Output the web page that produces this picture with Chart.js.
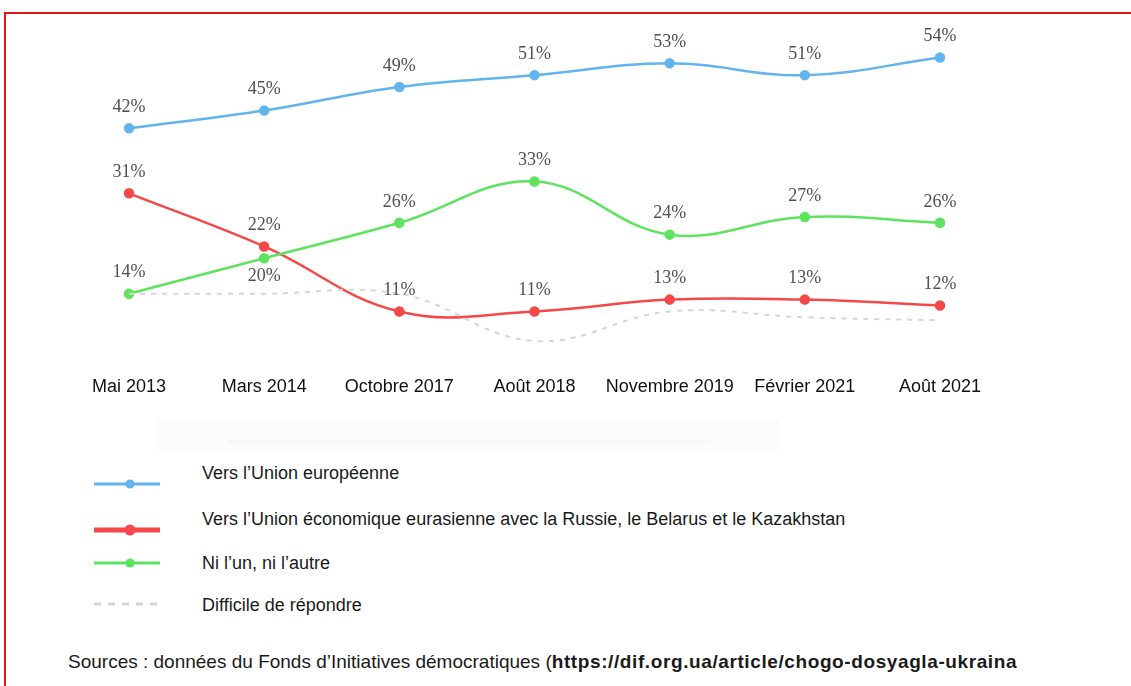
<!DOCTYPE html>
<html lang="fr">
<head>
<meta charset="utf-8">
<script src="https://cdn.jsdelivr.net/npm/chart.js@4.4.1/dist/chart.umd.min.js"></script>
<style>
  html, body { margin: 0; padding: 0; background: #fff; }
  body { width: 1131px; height: 686px; position: relative; overflow: hidden; font-family: "Liberation Sans", Arial, sans-serif; }
  #cadre { position: absolute; left: 4px; top: 12px; width: 1200px; height: 800px; border: 2px solid #e3141d; box-sizing: border-box; }
  #zone { position: absolute; left: 0; top: 0; width: 1131px; height: 410px; }
  #bande { position: absolute; left: 157px; top: 419px; width: 623px; height: 31px; background: #fbfbfc; }
  #bande div { position: absolute; left: 70px; right: 70px; top: 21px; height: 3px; background: #f3f6fa; }
  .legende { position: absolute; left: 0; top: 0; }
  .sym { position: absolute; left: 93px; }
  .txt { position: absolute; left: 202px; font-size: 18px; color: #1a1a1a; white-space: nowrap; line-height: 22px; }
  #source { position: absolute; left: 68px; top: 650px; font-size: 19px; line-height: 24px; color: #1a1a1a; white-space: nowrap; }
  #source b { letter-spacing: 0.6px; }
</style>
</head>
<body>
<div id="cadre"></div>
<div id="zone"><canvas id="graphique"></canvas></div>
<div id="bande"><div></div></div>
<div id="legende" class="legende"></div>
<div id="source">Sources : données du Fonds d’Initiatives démocratiques (<b>https://dif.org.ua/article/chogo-dosyagla-ukraina</b></div>
<script>
// Données
const periodes = ['Mai 2013', 'Mars 2014', 'Octobre 2017', 'Août 2018', 'Novembre 2019', 'Février 2021', 'Août 2021'];
const versUE = [42, 45, 49, 51, 53, 51, 54];
const versUEE = [31, 22, 11, 11, 13, 13, 12];
const niLunNiLautre = [14, 20, 26, 33, 24, 27, 26];
const difficile = [14, 14, 14, 6, 11, 10, 9.5];

const noms = [
    'Vers l’Union européenne',
    'Vers l’Union économique eurasienne avec la Russie, le Belarus et le Kazakhstan',
    'Ni l’un, ni l’autre',
    'Difficile de répondre'
];

// Étiquettes en pourcentage au-dessus des points
const etiquettes = {
    id: 'etiquettes',
    afterDatasetsDraw(chart) {
        const ctx = chart.ctx;
        ctx.save();
        ctx.font = '18px "Liberation Serif", "Times New Roman", serif';
        ctx.fillStyle = '#505050';
        ctx.textAlign = 'center';
        ctx.textBaseline = 'middle';
        chart.data.datasets.forEach((ds, i) => {
            if (!ds.etiquettes) return;
            chart.getDatasetMeta(i).data.forEach((pt, j) => {
                const dessous = ds.dessous && ds.dessous.includes(j);
                ctx.fillText(ds.data[j] + '%', pt.x, dessous ? pt.y + 18 : pt.y - 21);
            });
        });
        ctx.restore();
    }
};

const series = [
    { label: noms[0], data: versUE, borderColor: '#62b4ee', backgroundColor: '#62b4ee', borderWidth: 2.5, pointRadius: 4, etiquettes: true },
    { label: noms[1], data: versUEE, borderColor: '#f54848', backgroundColor: '#f54848', borderWidth: 2.5, pointRadius: 4, etiquettes: true },
    { label: noms[2], data: niLunNiLautre, borderColor: '#5ee35e', backgroundColor: '#5ee35e', borderWidth: 2.5, pointRadius: 4, etiquettes: true, dessous: [1] },
    { label: noms[3], data: difficile, borderColor: '#d6d6d6', backgroundColor: '#d6d6d6', borderWidth: 2, pointRadius: 0, borderDash: [5, 6] }
];

new Chart(document.getElementById('graphique'), {
    type: 'line',
    data: {
        labels: periodes,
        datasets: series.slice().reverse()
    },
    options: {
        responsive: true,
        maintainAspectRatio: false,
        animation: false,
        layout: { padding: { left: 129, right: 191, top: 22, bottom: 12 } },
        elements: { line: { tension: 0.4 }, point: { borderWidth: 0 } },
        plugins: { legend: { display: false }, tooltip: { enabled: false } },
        scales: {
            x: {
                offset: false,
                grid: { display: false, drawTicks: false },
                border: { display: false },
                ticks: { color: '#111', padding: 0, font: { family: '"Liberation Sans", Arial, sans-serif', size: 18 }, maxRotation: 0, autoSkip: false }
            },
            y: { display: false, min: 0, max: 60 }
        }
    },
    plugins: [etiquettes]
});

// Légende construite à partir des séries
const posTexte = [473, 519, 563, 605];
const posSymbole = [484, 530, 563, 604];
const legende = document.getElementById('legende');
series.forEach((s, i) => {
    const svg = document.createElementNS('http://www.w3.org/2000/svg', 'svg');
    svg.setAttribute('width', '70');
    svg.setAttribute('height', '14');
    svg.setAttribute('class', 'sym');
    svg.style.top = (posSymbole[i] - 7) + 'px';
    const epais = i === 1 ? 5 : 3;
    let html = '<line x1="1" y1="7" x2="67" y2="7" stroke="' + s.borderColor + '" stroke-width="' + epais + '"' +
        (s.borderDash ? ' stroke-dasharray="7 7"' : '') + ' />';
    if (s.pointRadius) html += '<circle cx="37" cy="7" r="' + (i === 1 ? 5.5 : 4.5) + '" fill="' + s.borderColor + '" />';
    svg.innerHTML = html;
    legende.appendChild(svg);
    const t = document.createElement('div');
    t.className = 'txt';
    t.style.top = (posTexte[i] - 11) + 'px';
    t.textContent = s.label;
    legende.appendChild(t);
});
</script>
</body>
</html>
